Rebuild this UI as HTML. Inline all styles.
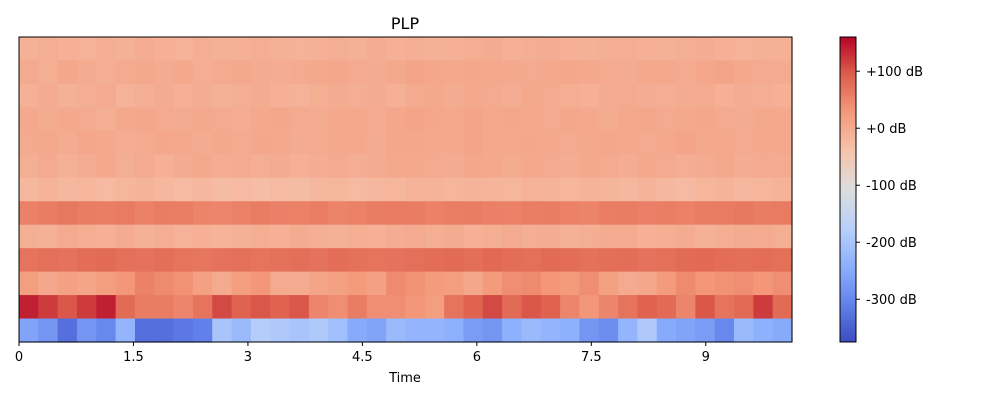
<!DOCTYPE html>
<html><head><meta charset="utf-8"><style>
body{margin:0;background:#fff;font-family:"Liberation Sans","DejaVu Sans",sans-serif;}
svg text{font-family:"DejaVu Sans","Liberation Sans",sans-serif;}
</style></head><body>
<svg id="chart" width="1000" height="400" xmlns="http://www.w3.org/2000/svg">
<text x="405" y="29" text-anchor="middle" font-size="16">PLP</text>
<g id="cells"></g>
<rect x="19" y="37" width="773" height="305" fill="none" stroke="#000" stroke-width="1"/>
<g id="xaxis"></g>
<text x="405" y="382" text-anchor="middle" font-size="13">Time</text>
<g id="cbar"></g>
</svg>
<script>
const rowValues = [
[-10,-5,-8,-12,-6,-10,-4,-8,-12,-6,-10,-8,-5,-10,-12,-8,-6,-10,-4,-8,-6,-10,-8,-5,-3,-8,-6,-4,-8,-10,-6,-5,-8,-10,-6,-4,-8,-12,-10,-8],
[0,-5,5,-2,-6,0,4,-3,2,-5,0,3,-2,-4,0,2,5,0,-3,2,8,5,3,6,2,4,0,3,6,2,0,-2,4,2,0,5,8,2,0,-3],
[-8,-2,-10,-5,0,-12,-6,-2,-8,-4,-10,-6,-2,-8,-12,-5,-2,-6,-3,-8,0,2,-2,4,0,-4,2,0,-5,-8,-2,0,-4,-6,-2,0,-8,-4,-6,-8],
[2,-3,4,0,-5,2,6,0,-2,4,0,-4,2,5,0,-3,2,4,0,6,10,6,4,8,2,6,4,0,5,2,-2,4,6,0,2,5,0,-2,4,2],
[0,4,-2,6,2,-4,0,5,2,-2,4,0,6,2,-3,0,4,2,-2,5,6,2,4,8,4,2,6,4,0,2,6,4,0,2,8,4,2,0,4,2],
[-5,0,-10,-4,2,-6,0,-8,-2,4,-4,0,-6,-2,-8,-4,0,-6,-2,2,4,0,-2,6,2,-2,4,0,-4,2,0,-4,2,0,-6,-2,2,-4,0,-2],
[-20,-15,-22,-18,-25,-18,-15,-20,-25,-22,-28,-25,-30,-26,-28,-22,-18,-24,-20,-18,-12,-15,-18,-14,-16,-18,-12,-15,-18,-14,-16,-20,-15,-22,-25,-18,-15,-20,-18,-15],
[55,60,65,60,58,62,55,60,58,52,50,55,60,56,54,58,52,55,60,62,60,55,58,60,56,54,58,60,55,52,58,60,56,58,55,60,62,64,60,62],
[-5,-10,0,-5,-8,-2,-10,-5,-12,-8,-15,-10,-5,-8,-2,-6,-10,-5,-8,-4,0,-5,-2,-8,-5,0,-6,-4,-10,-5,-2,0,-8,-5,-2,-10,-5,-3,0,-5],
[70,75,72,78,80,75,72,76,70,68,72,75,70,74,76,72,78,74,70,72,75,78,80,76,82,78,75,80,78,74,76,78,72,75,80,82,78,76,78,75],
[20,5,15,10,20,30,55,45,35,15,0,20,30,0,0,10,15,25,15,45,35,25,20,5,25,40,45,30,25,40,15,0,5,25,45,30,35,40,30,40],
[140,120,100,120,140,80,60,60,50,70,110,90,100,90,100,50,40,60,40,40,30,20,70,90,110,80,100,90,50,30,50,70,90,80,50,100,70,80,120,80],
[-260,-280,-330,-280,-300,-230,-330,-330,-320,-310,-200,-220,-180,-190,-200,-190,-210,-250,-260,-220,-230,-230,-240,-270,-280,-240,-220,-230,-240,-280,-290,-230,-190,-250,-260,-270,-300,-220,-240,-250]
];
const xTickValues = [0,1.5,3,4.5,6,7.5,9];
const xTickLabels = ["0","1.5","3","4.5","6","7.5","9"];
const cbarTickValues = [100,0,-100,-200,-300];
const cbarTickLabels = ["+100 dB","+0 dB","-100 dB","-200 dB","-300 dB"];
const vmin=-375, vmax=160, tmax=10.13;
const PX0=19,PX1=792,PY0=37,PY1=342;
const NS="http://www.w3.org/2000/svg";
const xScale=t=>PX0+(t/tmax)*(PX1-PX0);
const cmapStops=[[59,76,192],[98,130,234],[141,176,254],[184,208,249],[221,221,221],[245,196,173],[244,154,123],[222,96,77],[180,4,38]];
function cmap(v){let t=(v-vmin)/(vmax-vmin);t=Math.max(0,Math.min(1,t));const p=t*8,i=Math.min(7,Math.floor(p)),f=p-i;const a=cmapStops[i],b=cmapStops[i+1];return `rgb(${a.map((c,k)=>Math.round(c+(b[k]-c)*f)).join(',')})`;}
const cells=document.getElementById('cells');
const nr=rowValues.length, rh=(PY1-PY0)/nr;
rowValues.forEach((row,r)=>{const cw=(PX1-PX0)/row.length;row.forEach((v,c)=>{
const el=document.createElementNS(NS,'rect');


el.setAttribute('x',PX0+c*cw);el.setAttribute('y',PY0+r*rh);el.setAttribute('width',cw+0.6);el.setAttribute('height',rh+0.6);el.setAttribute('fill',cmap(v));cells.appendChild(el);});});
const xa=document.getElementById('xaxis');
xTickValues.forEach((t,i)=>{const x=xScale(t);
const l=document.createElementNS(NS,'line');


l.setAttribute('x1',x);l.setAttribute('x2',x);l.setAttribute('y1',PY1);l.setAttribute('y2',PY1+4);l.setAttribute('stroke','#000');xa.appendChild(l);
const tx=document.createElementNS(NS,'text');


tx.setAttribute('x',x);tx.setAttribute('y',PY1+19);tx.setAttribute('text-anchor','middle');tx.setAttribute('font-size','13');tx.textContent=xTickLabels[i];xa.appendChild(tx);});
const cb=document.getElementById('cbar');
const CX=840,CW=16;
for(let y=PY0;y<PY1;y++){const v=vmax-(y+0.5-PY0)/(PY1-PY0)*(vmax-vmin);
const r=document.createElementNS(NS,'rect');


r.setAttribute('x',CX);r.setAttribute('y',y);r.setAttribute('width',CW);r.setAttribute('height',1.5);r.setAttribute('fill',cmap(v));cb.appendChild(r);}
const fr=document.createElementNS(NS,'rect');


fr.setAttribute('x',CX);fr.setAttribute('y',PY0);fr.setAttribute('width',CW);fr.setAttribute('height',PY1-PY0);fr.setAttribute('fill','none');fr.setAttribute('stroke','#000');cb.appendChild(fr);
cbarTickValues.forEach((v,i)=>{const y=PY0+(vmax-v)/(vmax-vmin)*(PY1-PY0);
const l=document.createElementNS(NS,'line');


l.setAttribute('x1',CX+CW);l.setAttribute('x2',CX+CW+4);l.setAttribute('y1',y);l.setAttribute('y2',y);l.setAttribute('stroke','#000');cb.appendChild(l);
const tx=document.createElementNS(NS,'text');


tx.setAttribute('x',CX+CW+10);tx.setAttribute('y',y+5);tx.setAttribute('font-size','13');tx.textContent=cbarTickLabels[i];cb.appendChild(tx);});
</script>
</body></html>
